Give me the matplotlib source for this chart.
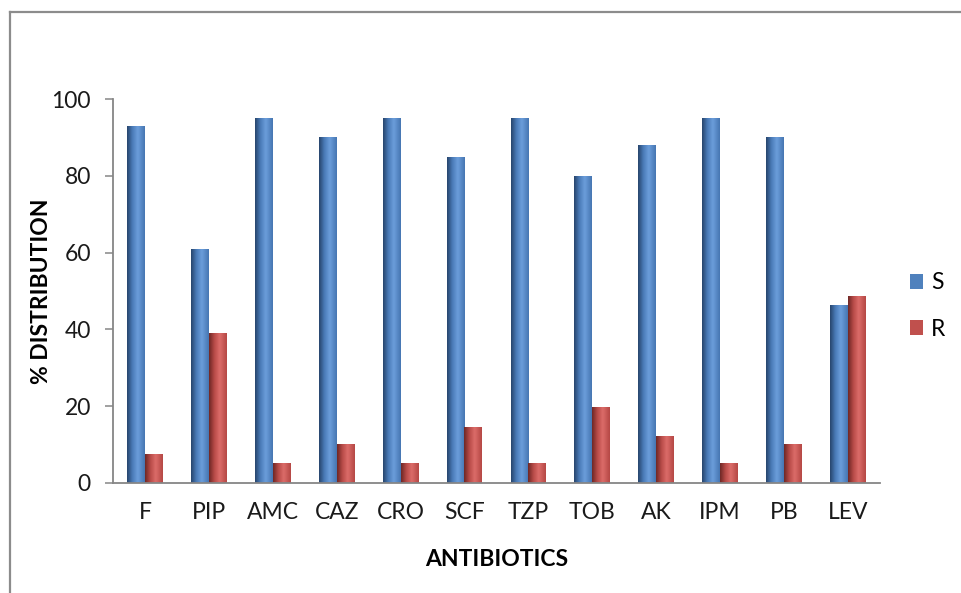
import numpy as np
import matplotlib
matplotlib.use("Agg")
import matplotlib.pyplot as plt
from matplotlib.colors import LinearSegmentedColormap
from matplotlib.lines import Line2D

antibiotics = ["F", "PIP", "AMC", "CAZ", "CRO", "SCF", "TZP", "TOB", "AK", "IPM", "PB", "LEV"]
susceptible = [93, 61, 95, 90, 95, 85, 95, 80, 88, 95, 90, 46.3]
resistant = [7.5, 39, 5, 10, 5, 14.6, 5, 19.7, 12.2, 5, 10, 48.7]

plt.rcParams["font.family"] = ["Lato", "DejaVu Sans"]

BLUE = "#4F81BD"
RED = "#C0504D"
blue_cmap = LinearSegmentedColormap.from_list(
    "blue_cyl", [(0, "#27456c"), (0.3, "#4a7bb8"), (0.6, "#6c9edb"), (1, "#4676b2")])
red_cmap = LinearSegmentedColormap.from_list(
    "red_cyl", [(0, "#6e2725"), (0.3, "#b84b48"), (0.6, "#dc6c69"), (1, "#b54845")])

fig = plt.figure(figsize=(9.61, 5.93), dpi=100)
ax = fig.add_axes([0.1176, 0.186, 0.798, 0.6466])

x = np.arange(len(antibiotics))
w = 0.28
bars_s = ax.bar(x - w / 2, susceptible, w, color=BLUE, label="S", zorder=2)
bars_r = ax.bar(x + w / 2, resistant, w, color=RED, label="R", zorder=2)

# cylinder-like shading, like the Excel chart
grad = np.linspace(0, 1, 64).reshape(1, -1)
for bars, cmap in ((bars_s, blue_cmap), (bars_r, red_cmap)):
    for b in bars:
        x0, y0 = b.get_x(), b.get_y()
        ax.imshow(grad, cmap=cmap, aspect="auto", zorder=3, interpolation="bicubic",
                  extent=(x0, x0 + b.get_width(), y0, y0 + b.get_height()))

ax.set_xlim(-0.5, len(antibiotics) - 0.5)
ax.set_ylim(0, 100)
ax.set_yticks([0, 20, 40, 60, 80, 100])
ax.set_xticks(x)
ax.set_xticklabels(antibiotics)

for side in ("top", "right"):
    ax.spines[side].set_visible(False)
for side in ("left", "bottom"):
    ax.spines[side].set_color("#868686")
    ax.spines[side].set_linewidth(1.3)
    ax.spines[side].set_zorder(4)

ax.tick_params(axis="y", length=6, width=1.1, color="#868686", pad=10, labelsize=16.5, labelcolor="#1a1a1a")
ax.tick_params(axis="x", length=0, pad=14, labelsize=16.5, labelcolor="#1a1a1a")

ax.set_ylabel("% DISTRIBUTION", fontsize=16.5, fontweight="bold")
ax.yaxis.set_label_coords(-0.079, 0.5)
ax.set_xlabel("ANTIBIOTICS", fontsize=16.5, fontweight="bold")
ax.xaxis.set_label_coords(0.5, -0.172)

ax.legend(loc="center left", bbox_to_anchor=(0.9345, 0.484), bbox_transform=fig.transFigure,
          frameon=False, fontsize=16.5, handlelength=0.6, handleheight=0.6,
          handletextpad=0.35, labelspacing=1.1, borderpad=0)

# frame of the original chart image (only top and left edges visible)
fig.add_artist(Line2D([0.0104, 1.0], [0.98, 0.98], transform=fig.transFigure,
                      color="#8c8c8c", linewidth=1.6))
fig.add_artist(Line2D([0.0104, 0.0104], [0.0, 0.98], transform=fig.transFigure,
                      color="#8c8c8c", linewidth=1.6))

fig.savefig("out.png", dpi=100, facecolor="white")
